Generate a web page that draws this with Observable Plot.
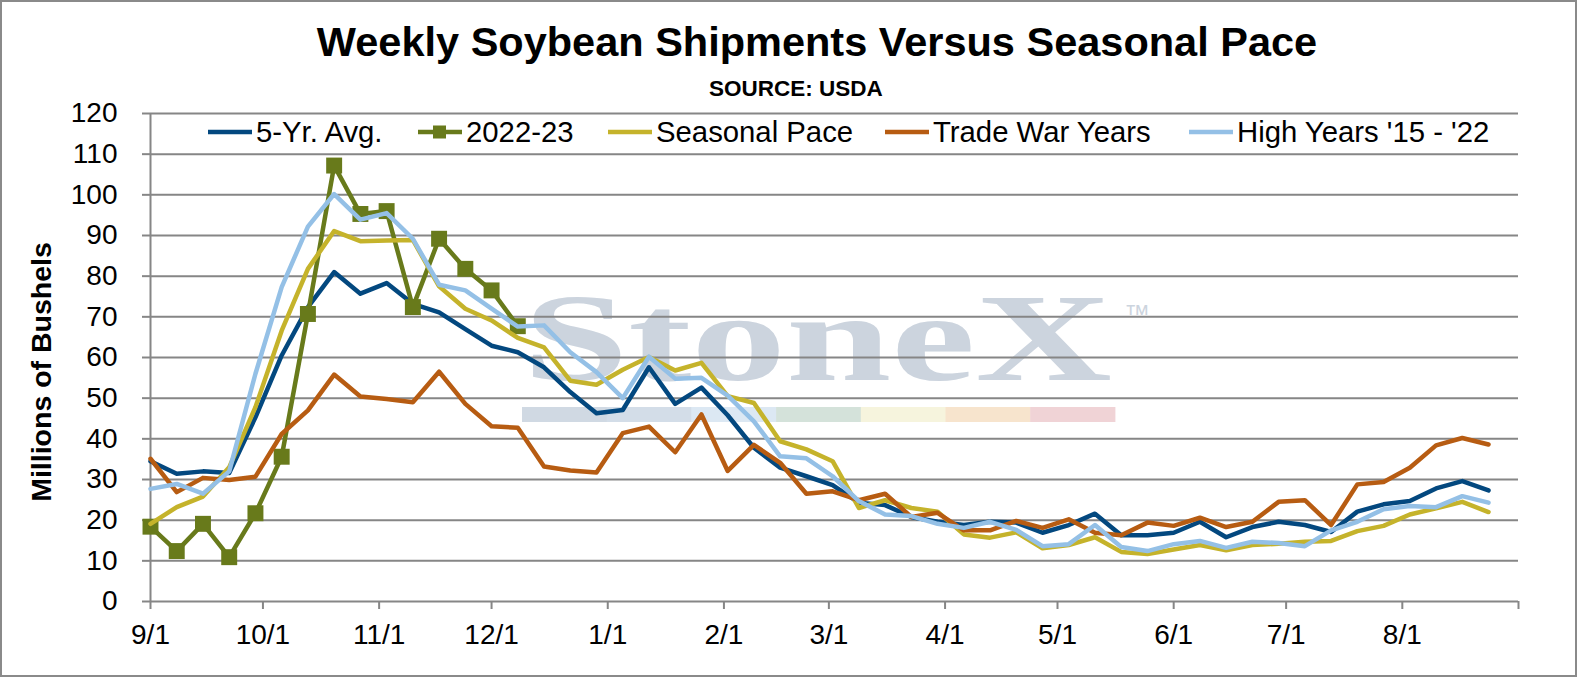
<!DOCTYPE html>
<html>
<head>
<meta charset="utf-8">
<script src="https://cdn.jsdelivr.net/npm/d3@7"></script>
<script src="https://cdn.jsdelivr.net/npm/@observablehq/plot@0.6"></script>
<style>
  body { margin: 0; background: #fff; }
  #wrap { position: relative; width: 1577px; height: 677px; background: #fff; overflow: hidden; font-family: "Liberation Sans", Arial, sans-serif; color: #000; }
  #chart { position: absolute; left: 0; top: 0; }
  .abs { position: absolute; white-space: nowrap; }
  #title { left: 0; width: 1634px; top: 21.4px; text-align: center; font-weight: bold; font-size: 41.5px; line-height: 41.5px; }
  #sub { left: 0; width: 1592px; top: 77.6px; text-align: center; font-weight: bold; font-size: 22.5px; line-height: 22.5px; }
  #ylabel { left: 41px; top: 372px; font-weight: bold; font-size: 28.5px; line-height: 28px; transform: translate(-50%, -50%) rotate(-90deg); }
  .leg { top: 118px; height: 28px; display: flex; align-items: center; font-size: 29.3px; line-height: 28px; }
  .leg svg { margin-right: 4px; display: block; }
  #border { position: absolute; left: 0; top: 0; width: 1577px; height: 677px; box-sizing: border-box; border: 2px solid #8a8a8a; pointer-events: none; }
</style>
</head>
<body>
<div id="wrap">
  <div id="chart"></div>
  <div id="title" class="abs">Weekly Soybean Shipments Versus Seasonal Pace</div>
  <div id="sub" class="abs">SOURCE: USDA</div>
  <div id="ylabel" class="abs">Millions of Bushels</div>
  <div id="legend"></div>
  <div id="border"></div>
</div>
<script>
// ---------------- DATA ----------------
const weeks = [
  "2022-09-01","2022-09-08","2022-09-15","2022-09-22","2022-09-29",
  "2022-10-06","2022-10-13","2022-10-20","2022-10-27",
  "2022-11-03","2022-11-10","2022-11-17","2022-11-24",
  "2022-12-01","2022-12-08","2022-12-15","2022-12-22","2022-12-29",
  "2023-01-05","2023-01-12","2023-01-19","2023-01-26",
  "2023-02-02","2023-02-09","2023-02-16","2023-02-23",
  "2023-03-02","2023-03-09","2023-03-16","2023-03-23","2023-03-30",
  "2023-04-06","2023-04-13","2023-04-20","2023-04-27",
  "2023-05-04","2023-05-11","2023-05-18","2023-05-25",
  "2023-06-01","2023-06-08","2023-06-15","2023-06-22","2023-06-29",
  "2023-07-06","2023-07-13","2023-07-20","2023-07-27",
  "2023-08-03","2023-08-10","2023-08-17","2023-08-24"
];
const fiveYrAvg = [
  34.5, 31.4, 32.0, 31.6, 45.3, 60.5, 72.4, 81.0, 75.7, 78.3,
  73.2, 71.1, 67.0, 62.9, 61.3, 57.6, 51.5, 46.3, 47.1, 57.6,
  48.6, 52.6, 45.8, 37.8, 32.9, 30.8, 28.6, 24.3, 23.7, 20.8,
  19.6, 18.8, 19.6, 19.4, 16.9, 18.8, 21.6, 16.3, 16.3, 16.9,
  19.6, 15.8, 18.3, 19.6, 18.8, 17.1, 22.1, 23.9, 24.7, 27.8,
  29.6, 27.3
];
const year2223 = [
  18.4, 12.4, 19.1, 10.9, 21.7, 35.6, 70.7, 107.2, 95.3, 96.0,
  72.4, 89.2, 81.8, 76.5, 67.7
];
const seasonalPace = [
  19.1, 23.2, 25.8, 33.0, 47.8, 66.6, 81.8, 91.1, 88.6, 88.8,
  88.9, 77.5, 72.0, 69.1, 64.8, 62.5, 54.3, 53.3, 57.0, 60.1,
  56.8, 58.7, 50.5, 48.8, 39.4, 37.4, 34.5, 23.0, 24.9, 23.0,
  22.1, 16.5, 15.7, 17.0, 13.1, 13.9, 15.8, 12.2, 11.7, 12.8,
  13.9, 12.6, 13.9, 14.2, 14.7, 14.9, 17.3, 18.6, 21.4, 22.9,
  24.5, 22.0
];
const tradeWarYears = [
  35.1, 26.9, 30.4, 29.9, 30.7, 41.2, 47.0, 55.8, 50.4, 49.8,
  49.0, 56.5, 48.6, 43.1, 42.7, 33.2, 32.2, 31.7, 41.4, 43.0,
  36.7, 46.0, 32.1, 38.5, 34.1, 26.5, 27.1, 24.9, 26.5, 20.8,
  21.8, 17.5, 17.5, 19.8, 18.1, 20.2, 16.9, 16.3, 19.4, 18.6,
  20.6, 18.3, 19.6, 24.5, 24.9, 18.8, 28.8, 29.4, 32.9, 38.4,
  40.2, 38.6
];
const highYears = [
  27.7, 28.9, 26.5, 32.0, 56.0, 77.3, 92.2, 100.2, 93.9, 95.5,
  89.2, 77.9, 76.5, 72.0, 67.6, 67.9, 61.3, 56.4, 50.0, 60.2,
  54.8, 55.0, 50.6, 44.3, 35.7, 35.2, 30.8, 24.7, 21.4, 21.0,
  19.1, 18.1, 19.6, 17.6, 13.6, 14.1, 18.8, 13.4, 12.4, 14.1,
  14.9, 13.2, 14.7, 14.4, 13.6, 17.5, 19.6, 22.7, 23.5, 23.2,
  25.9, 24.3
];
const seriesNames = ["5-Yr. Avg.", "2022-23", "Seasonal Pace", "Trade War Years", "High Years '15 - '22"];
const yTicks = [0, 10, 20, 30, 40, 50, 60, 70, 80, 90, 100, 110, 120];
const xTickDates = ["2022-09-01","2022-10-01","2022-11-01","2022-12-01","2023-01-01","2023-02-01",
  "2023-03-01","2023-04-01","2023-05-01","2023-06-01","2023-07-01","2023-08-01","2023-09-01"];
const xTickLabels = ["9/1","10/1","11/1","12/1","1/1","2/1","3/1","4/1","5/1","6/1","7/1","8/1",""];

// ---------------- STYLE ----------------
const colors = ["#03487f", "#687a1b", "#c5b32b", "#b75c12", "#94c0e6"];
const gridColor = "#868686";
const LW = 4.5;

// ---------------- BUILD ----------------
const toRows = arr => arr.map((v, i) => ({date: new Date(weeks[i]), value: v}));
const allSeries = [fiveYrAvg, year2223, seasonalPace, tradeWarYears, highYears].map(toRows);
const tickDates = xTickDates.map(d => new Date(d));
const fmtX = d => { const k = tickDates.findIndex(t => +t === +d); return k >= 0 ? xTickLabels[k] : ""; };

const svg = Plot.plot({
  width: 1577,
  height: 677,
  marginLeft: 150,
  marginRight: 59,
  marginTop: 113,
  marginBottom: 76,
  style: {background: "transparent", fontFamily: "'Liberation Sans', Arial, sans-serif", color: "#000"},
  x: {type: "utc", domain: [tickDates[0], tickDates[tickDates.length - 1]]},
  y: {domain: [0, 120]},
  marks: [
    Plot.ruleY(yTicks, {stroke: gridColor, strokeWidth: 2}),
    Plot.ruleX([tickDates[0]], {stroke: gridColor, strokeWidth: 2}),
    Plot.axisY(yTicks, {tickSize: 8, tickPadding: 25, stroke: gridColor, strokeWidth: 2, fill: "#000",
      fontSize: 28, label: null, tickFormat: d => String(d)}),
    Plot.axisX(tickDates, {tickSize: 8, tickPadding: 15, stroke: gridColor, strokeWidth: 2, fill: "#000",
      fontSize: 28, label: null, tickFormat: fmtX}),
    Plot.line(allSeries[0], {x: "date", y: "value", stroke: colors[0], strokeWidth: LW}),
    Plot.line(allSeries[1], {x: "date", y: "value", stroke: colors[1], strokeWidth: LW}),
    Plot.dot(allSeries[1], {x: "date", y: "value", symbol: "square", r: 9, fill: colors[1], stroke: "none"}),
    Plot.line(allSeries[2], {x: "date", y: "value", stroke: colors[2], strokeWidth: LW}),
    Plot.line(allSeries[3], {x: "date", y: "value", stroke: colors[3], strokeWidth: LW}),
    Plot.line(allSeries[4], {x: "date", y: "value", stroke: colors[4], strokeWidth: LW})
  ]
});

// watermark (decoration, behind everything)
const wm = d3.create("svg:g").attr("aria-label", "watermark").attr("text-anchor", "start");
const barColors = ["#d0d9e3", "#d3dde8", "#dce8f3", "#d4e2da", "#f6f4dd", "#f7e4cd", "#f0d3d6"];
barColors.forEach((c, k) => {
  wm.append("rect").attr("x", 522 + k * 84.7).attr("y", 407).attr("width", 85.2).attr("height", 15).attr("fill", c);
});
wm.append("text").attr("x", 523).attr("y", 380).attr("text-anchor", "start")
  .attr("font-family", "'Liberation Serif', 'DejaVu Serif', serif").attr("font-weight", "bold")
  .attr("font-size", 125).attr("fill", "#ccd4de")
  .attr("textLength", 589).attr("lengthAdjust", "spacingAndGlyphs").text("StoneX");
wm.append("text").attr("x", 1124).attr("y", 323).attr("text-anchor", "start")
  .attr("font-family", "'Liberation Sans', Arial, sans-serif").attr("font-size", 26).attr("fill", "#ccd4de").text("™");
svg.insertBefore(wm.node(), svg.firstChild);

document.getElementById("chart").appendChild(svg);

// legend (HTML)
const legendLeft = [208, 418, 608, 885, 1189];
const legend = document.getElementById("legend");
seriesNames.forEach((name, k) => {
  const item = document.createElement("div");
  item.className = "abs leg";
  item.style.left = legendLeft[k] + "px";
  const marker = k === 1 ? `<rect x="15" y="7.5" width="13" height="13" fill="${colors[k]}"/>` : "";
  item.innerHTML = `<svg width="44" height="28"><line x1="0" x2="44" y1="14" y2="14" stroke="${colors[k]}" stroke-width="${LW}" stroke-linecap="round"/>${marker}</svg><span>${name}</span>`;
  legend.appendChild(item);
});
</script>
</body>
</html>
